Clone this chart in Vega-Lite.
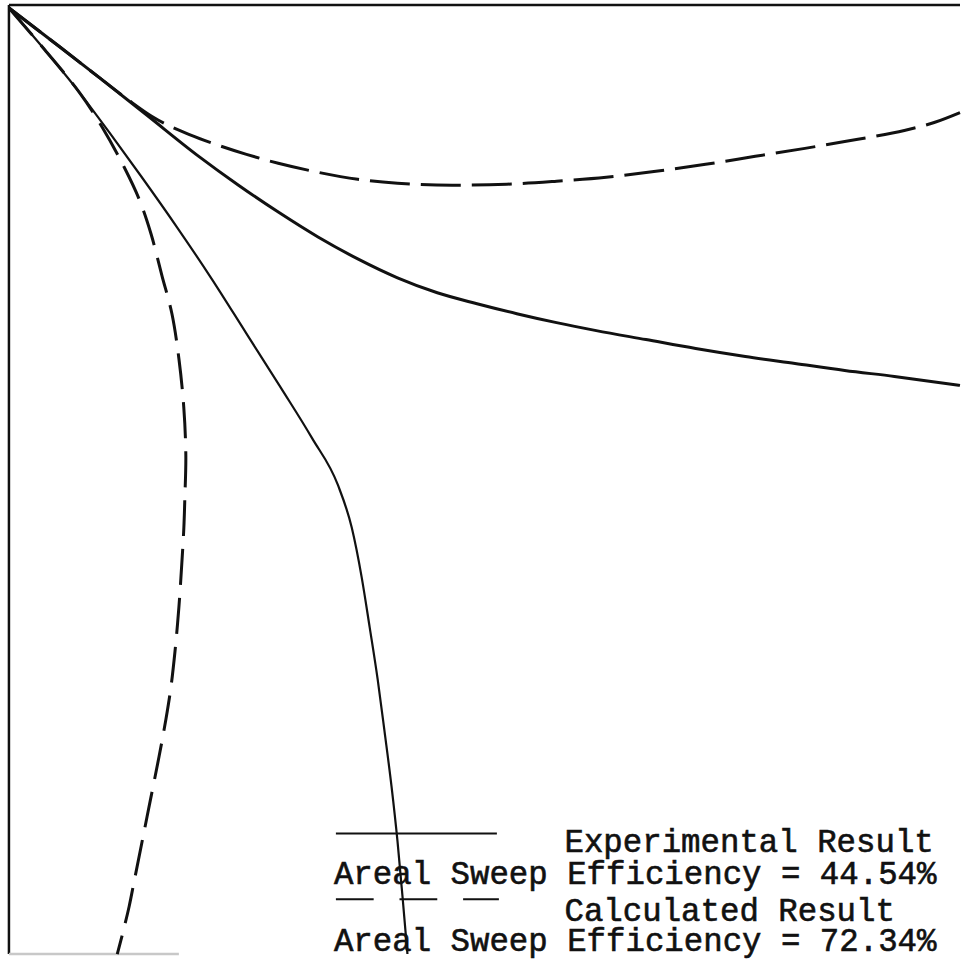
{
  "$schema": "https://vega.github.io/schema/vega-lite/v6.json",
  "width": 966,
  "height": 960,
  "padding": 0,
  "autosize": {"type": "fit", "contains": "padding"},
  "background": "white",
  "config": {"view": {"stroke": null}},
  "datasets": {
    "curves": [
      {"series": "A", "i": 0, "x": 9, "y": 8},
      {"series": "A", "i": 1, "x": 60, "y": 47},
      {"series": "A", "i": 2, "x": 100, "y": 78},
      {"series": "A", "i": 3, "x": 147, "y": 115},
      {"series": "A", "i": 4, "x": 200, "y": 157},
      {"series": "A", "i": 5, "x": 240, "y": 186},
      {"series": "A", "i": 6, "x": 280, "y": 213},
      {"series": "A", "i": 7, "x": 320, "y": 238},
      {"series": "A", "i": 8, "x": 360, "y": 260},
      {"series": "A", "i": 9, "x": 400, "y": 279},
      {"series": "A", "i": 10, "x": 440, "y": 294},
      {"series": "A", "i": 11, "x": 480, "y": 305},
      {"series": "A", "i": 12, "x": 520, "y": 315},
      {"series": "A", "i": 13, "x": 560, "y": 324},
      {"series": "A", "i": 14, "x": 600, "y": 332},
      {"series": "A", "i": 15, "x": 650, "y": 341},
      {"series": "A", "i": 16, "x": 700, "y": 350},
      {"series": "A", "i": 17, "x": 750, "y": 358},
      {"series": "A", "i": 18, "x": 800, "y": 365},
      {"series": "A", "i": 19, "x": 850, "y": 372},
      {"series": "A", "i": 20, "x": 900, "y": 378},
      {"series": "A", "i": 21, "x": 966, "y": 387},
      {"series": "C", "i": 0, "x": 9, "y": 8},
      {"series": "C", "i": 1, "x": 45, "y": 50},
      {"series": "C", "i": 2, "x": 80, "y": 93},
      {"series": "C", "i": 3, "x": 110, "y": 133},
      {"series": "C", "i": 4, "x": 142, "y": 177},
      {"series": "C", "i": 5, "x": 178, "y": 228},
      {"series": "C", "i": 6, "x": 213, "y": 280},
      {"series": "C", "i": 7, "x": 248, "y": 335},
      {"series": "C", "i": 8, "x": 283, "y": 390},
      {"series": "C", "i": 9, "x": 314, "y": 440},
      {"series": "C", "i": 10, "x": 340, "y": 487},
      {"series": "C", "i": 11, "x": 354, "y": 530},
      {"series": "C", "i": 12, "x": 364, "y": 580},
      {"series": "C", "i": 13, "x": 372, "y": 630},
      {"series": "C", "i": 14, "x": 380, "y": 682},
      {"series": "C", "i": 15, "x": 387, "y": 735},
      {"series": "C", "i": 16, "x": 394, "y": 790},
      {"series": "C", "i": 17, "x": 400, "y": 845},
      {"series": "C", "i": 18, "x": 405, "y": 900},
      {"series": "C", "i": 19, "x": 410, "y": 958},
      {"series": "B", "i": 0, "x": 9, "y": 8},
      {"series": "B", "i": 1, "x": 60, "y": 47},
      {"series": "B", "i": 2, "x": 100, "y": 78},
      {"series": "B", "i": 3, "x": 130, "y": 101},
      {"series": "B", "i": 4, "x": 153, "y": 117},
      {"series": "B", "i": 5, "x": 190, "y": 135},
      {"series": "B", "i": 6, "x": 220, "y": 146},
      {"series": "B", "i": 7, "x": 248, "y": 155},
      {"series": "B", "i": 8, "x": 280, "y": 164},
      {"series": "B", "i": 9, "x": 320, "y": 173},
      {"series": "B", "i": 10, "x": 360, "y": 180},
      {"series": "B", "i": 11, "x": 400, "y": 184},
      {"series": "B", "i": 12, "x": 455, "y": 186},
      {"series": "B", "i": 13, "x": 510, "y": 185},
      {"series": "B", "i": 14, "x": 560, "y": 182},
      {"series": "B", "i": 15, "x": 610, "y": 178},
      {"series": "B", "i": 16, "x": 660, "y": 172},
      {"series": "B", "i": 17, "x": 710, "y": 165},
      {"series": "B", "i": 18, "x": 760, "y": 157},
      {"series": "B", "i": 19, "x": 810, "y": 149},
      {"series": "B", "i": 20, "x": 850, "y": 142},
      {"series": "B", "i": 21, "x": 880, "y": 137},
      {"series": "B", "i": 22, "x": 910, "y": 131},
      {"series": "B", "i": 23, "x": 940, "y": 123},
      {"series": "B", "i": 24, "x": 966, "y": 113},
      {"series": "D", "i": 0, "x": 9, "y": 8},
      {"series": "D", "i": 1, "x": 45, "y": 50},
      {"series": "D", "i": 2, "x": 80, "y": 93},
      {"series": "D", "i": 3, "x": 103, "y": 128},
      {"series": "D", "i": 4, "x": 125, "y": 168},
      {"series": "D", "i": 5, "x": 140, "y": 200},
      {"series": "D", "i": 6, "x": 152, "y": 235},
      {"series": "D", "i": 7, "x": 163, "y": 277},
      {"series": "D", "i": 8, "x": 173, "y": 315},
      {"series": "D", "i": 9, "x": 180, "y": 360},
      {"series": "D", "i": 10, "x": 185, "y": 410},
      {"series": "D", "i": 11, "x": 187, "y": 458},
      {"series": "D", "i": 12, "x": 186, "y": 500},
      {"series": "D", "i": 13, "x": 185, "y": 530},
      {"series": "D", "i": 14, "x": 183, "y": 565},
      {"series": "D", "i": 15, "x": 180, "y": 610},
      {"series": "D", "i": 16, "x": 176, "y": 655},
      {"series": "D", "i": 17, "x": 172, "y": 690},
      {"series": "D", "i": 18, "x": 167, "y": 722},
      {"series": "D", "i": 19, "x": 160, "y": 760},
      {"series": "D", "i": 20, "x": 151, "y": 805},
      {"series": "D", "i": 21, "x": 142, "y": 850},
      {"series": "D", "i": 22, "x": 135, "y": 885},
      {"series": "D", "i": 23, "x": 130, "y": 910},
      {"series": "D", "i": 24, "x": 124, "y": 935},
      {"series": "D", "i": 25, "x": 118, "y": 958}
    ],
    "frame": [
      {"part": "left", "x": 9, "y": 5, "x2": 9, "y2": 958, "shade": "dark"},
      {"part": "top", "x": 9, "y": 5, "x2": 966, "y2": 5, "shade": "dark"},
      {"part": "bottom", "x": 9, "y": 958, "x2": 180, "y2": 958, "shade": "faint"}
    ],
    "legendLines": [
      {"kind": "solid", "x": 338, "x2": 500, "y": 837},
      {"kind": "dash", "x": 338, "x2": 376, "y": 903},
      {"kind": "dash", "x": 402, "x2": 440, "y": 903},
      {"kind": "dash", "x": 466, "x2": 502, "y": 903}
    ],
    "labels": [
      {"text": "Experimental Result", "x": 568, "y": 856},
      {"text": "Areal Sweep Efficiency = 44.54%", "x": 336, "y": 888},
      {"text": "Calculated Result", "x": 568, "y": 925},
      {"text": "Areal Sweep Efficiency = 72.34%", "x": 336, "y": 955}
    ]
  },
  "layer": [
    {
      "data": {"name": "frame"},
      "mark": {"type": "rule", "strokeWidth": 2.5},
      "encoding": {
        "x": {"field": "x", "type": "quantitative", "scale": {"domain": [0, 966], "nice": false, "zero": false}, "axis": null},
        "y": {"field": "y", "type": "quantitative", "scale": {"domain": [0, 960], "nice": false, "zero": false, "reverse": true}, "axis": null},
        "x2": {"field": "x2"},
        "y2": {"field": "y2"},
        "color": {"field": "shade", "type": "nominal", "scale": {"domain": ["dark", "faint"], "range": ["#111111", "#c8c8c8"]}, "legend": null}
      }
    },
    {
      "data": {"name": "curves"},
      "transform": [{"filter": "datum.series === 'A'"}],
      "mark": {"type": "line", "color": "#111", "strokeWidth": 3, "interpolate": "monotone"},
      "encoding": {
        "x": {"field": "x", "type": "quantitative", "axis": null},
        "y": {"field": "y", "type": "quantitative", "axis": null},
        "order": {"field": "i"}
      }
    },
    {
      "data": {"name": "curves"},
      "transform": [{"filter": "datum.series === 'C'"}],
      "mark": {"type": "line", "color": "#111", "strokeWidth": 2.2, "interpolate": "monotone"},
      "encoding": {
        "x": {"field": "x", "type": "quantitative", "axis": null},
        "y": {"field": "y", "type": "quantitative", "axis": null},
        "order": {"field": "i"}
      }
    },
    {
      "data": {"name": "curves"},
      "transform": [{"filter": "datum.series === 'B'"}],
      "mark": {"type": "line", "color": "#111", "strokeWidth": 3, "strokeDash": [40, 11], "interpolate": "monotone"},
      "encoding": {
        "x": {"field": "x", "type": "quantitative", "axis": null},
        "y": {"field": "y", "type": "quantitative", "axis": null},
        "order": {"field": "i"}
      }
    },
    {
      "data": {"name": "curves"},
      "transform": [{"filter": "datum.series === 'D'"}],
      "mark": {"type": "line", "color": "#111", "strokeWidth": 3, "strokeDash": [36, 13], "interpolate": "catmull-rom"},
      "encoding": {
        "x": {"field": "x", "type": "quantitative", "axis": null},
        "y": {"field": "y", "type": "quantitative", "axis": null},
        "order": {"field": "i"}
      }
    },
    {
      "data": {"name": "legendLines"},
      "mark": {"type": "rule", "color": "#111", "strokeWidth": 2},
      "encoding": {
        "x": {"field": "x", "type": "quantitative", "axis": null},
        "x2": {"field": "x2"},
        "y": {"field": "y", "type": "quantitative", "axis": null}
      }
    },
    {
      "data": {"name": "labels"},
      "mark": {"type": "text", "align": "left", "baseline": "alphabetic", "font": "Liberation Mono", "fontSize": 32.4, "color": "#111", "stroke": "#111", "strokeWidth": 0.6},
      "encoding": {
        "x": {"field": "x", "type": "quantitative", "axis": null},
        "y": {"field": "y", "type": "quantitative", "axis": null},
        "text": {"field": "text"}
      }
    }
  ]
}
